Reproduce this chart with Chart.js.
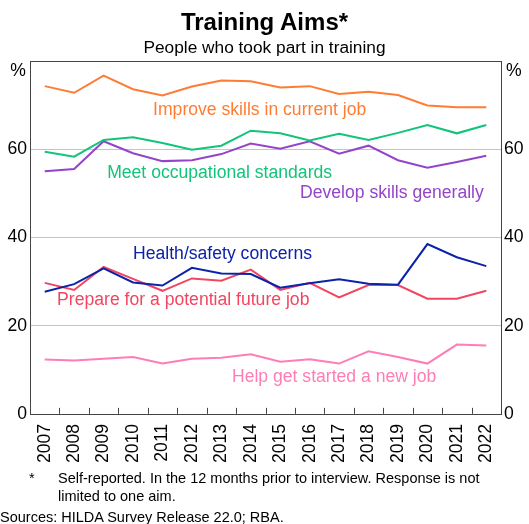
<!DOCTYPE html>
<html lang="en">
<head>
    <meta charset="UTF-8">
    <title>Training Aims</title>
    <script src="https://cdn.jsdelivr.net/npm/chart.js"></script>
    <style>
        body { margin: 0; background: #fff; font-family: "Liberation Sans", Arial, sans-serif; }
        #wrap { position: relative; width: 529px; height: 524px; }
        canvas { position: absolute; left: 0; top: 0; }
        .txt { position: absolute; white-space: nowrap; color: #000; }
    </style>
</head>
<body>
<div id="wrap">
    <canvas id="chart" width="529" height="524"></canvas>
    <div class="txt" style="left:0;width:529px;text-align:center;top:7px;font-size:24px;font-weight:bold;line-height:30px;">Training Aims*</div>
    <div class="txt" style="left:0;width:529px;text-align:center;top:37px;font-size:17.3px;line-height:20px;">People who took part in training</div>
    <div class="txt" style="left:29px;top:469px;font-size:14.5px;line-height:18px;">*</div>
    <div class="txt" style="left:58px;top:469px;font-size:14.5px;line-height:18px;">Self-reported. In the 12 months prior to interview. Response is not<br>limited to one aim.</div>
    <div class="txt" style="left:0;top:508px;font-size:14.5px;line-height:18px;">Sources: HILDA Survey Release 22.0; RBA.</div>
</div>
<script>
    const years = ['2007', '2008', '2009', '2010', '2011', '2012', '2013', '2014',
                   '2015', '2016', '2017', '2018', '2019', '2020', '2021', '2022'];

    const improveSkills = [74.3, 72.8, 76.7, 73.6, 72.2, 74.2, 75.6, 75.4, 74.0, 74.3, 72.5, 73.0, 72.3, 69.9, 69.5, 69.5];
    const meetStandards = [59.4, 58.3, 62.1, 62.7, 61.4, 59.9, 60.8, 64.2, 63.6, 62.0, 63.5, 62.1, 63.7, 65.5, 63.6, 65.5];
    const developSkills = [55.0, 55.5, 61.8, 59.1, 57.3, 57.5, 58.9, 61.3, 60.1, 61.8, 59.0, 60.8, 57.5, 55.8, 57.1, 58.5];
    const healthSafety  = [27.7, 29.4, 33.0, 29.8, 29.1, 33.1, 31.8, 31.7, 28.6, 29.6, 30.5, 29.5, 29.3, 38.5, 35.5, 33.5];
    const prepareFuture = [29.7, 28.1, 33.3, 30.6, 27.9, 30.7, 30.2, 32.7, 28.1, 29.7, 26.4, 29.2, 29.2, 26.1, 26.1, 27.9];
    const helpNewJob    = [12.3, 12.1, 12.5, 12.9, 11.4, 12.5, 12.7, 13.5, 11.8, 12.4, 11.4, 14.2, 12.9, 11.4, 15.7, 15.5];

    const yTicks = [0, 20, 40, 60, 80];

    const series = [
        { label: 'Improve skills in current job', data: improveSkills, color: '#FF7C33', at: [3.68, 68.9] },
        { label: 'Meet occupational standards', data: meetStandards, color: '#12C47A', at: [2.12, 54.5] },
        { label: 'Develop skills generally', data: developSkills, color: '#9444C8', at: [8.67, 50.0] },
        { label: 'Health/safety concerns', data: healthSafety, color: '#0C22A8', at: [3.0, 36.1] },
        { label: 'Prepare for a potential future job', data: prepareFuture, color: '#F24560', at: [0.42, 25.7] },
        { label: 'Help get started a new job', data: helpNewJob, color: '#FF7DB5', at: [6.36, 8.4] }
    ];

    const FONT = '"Liberation Sans", Arial, sans-serif';
    const SIZE = 17.6;

    // labels, border, inward x ticks and the % signs
    const decor = {
        id: 'decor',
        afterDatasetsDraw(chart) {
            const { ctx, chartArea: a, scales } = chart;
            ctx.save();
            ctx.font = SIZE + 'px ' + FONT;
            ctx.textAlign = 'left';
            ctx.textBaseline = 'middle';
            series.forEach(s => {
                ctx.fillStyle = s.color;
                ctx.fillText(s.label, scales.x.getPixelForValue(s.at[0]), scales.y.getPixelForValue(s.at[1]));
            });

            ctx.strokeStyle = '#444';
            ctx.lineWidth = 1;
            ctx.beginPath();
            for (let i = 1; i < years.length; i++) {
                const x = Math.round(scales.x.getPixelForValue(i - 0.5)) + 0.5;
                ctx.moveTo(x, a.bottom);
                ctx.lineTo(x, a.bottom - 6);
            }
            ctx.stroke();
            ctx.strokeRect(Math.round(a.left) + 0.5, Math.round(a.top) + 0.5,
                           Math.round(a.right - a.left), Math.round(a.bottom - a.top));

            ctx.fillStyle = '#000';
            ctx.textBaseline = 'middle';
            ctx.textAlign = 'right';
            ctx.fillText('%', a.left - 4, a.top + 10);
            ctx.textAlign = 'left';
            ctx.fillText('%', a.right + 5, a.top + 10);
            ctx.restore();
        }
    };

    const yAxis = (pos, w) => ({
        position: pos,
        min: 0,
        max: 80,
        afterBuildTicks: sc => { sc.ticks = yTicks.map(v => ({ value: v })); },
        afterFit: sc => { sc.width = w; },
        border: { display: false },
        grid: {
            display: pos === 'left',
            drawTicks: false,
            color: c => (c.tick && (c.tick.value === 0 || c.tick.value === 80)) ? 'rgba(0,0,0,0)' : '#C4C4C4'
        },
        ticks: {
            padding: 3,
            color: '#000',
            font: { family: FONT, size: SIZE },
            callback: v => v === 80 ? '' : v
        }
    });

    new Chart(document.getElementById('chart'), {
        type: 'line',
        data: {
            labels: years,
            datasets: series.map(s => ({
                label: s.label,
                data: s.data,
                borderColor: s.color,
                borderWidth: 2,
                pointRadius: 0,
                tension: 0,
                fill: false
            }))
        },
        options: {
            responsive: false,
            animation: false,
            layout: { padding: { top: 61, bottom: 59, left: 0, right: 0 } },
            plugins: { legend: { display: false }, tooltip: { enabled: false } },
            scales: {
                x: {
                    offset: true,
                    border: { display: false },
                    grid: { display: false },
                    ticks: {
                        color: '#000',
                        font: { family: FONT, size: SIZE },
                        minRotation: 90,
                        maxRotation: 90,
                        padding: 2
                    }
                },
                y: yAxis('left', 30),
                y2: yAxis('right', 28)
            }
        },
        plugins: [decor]
    });
</script>
</body>
</html>
